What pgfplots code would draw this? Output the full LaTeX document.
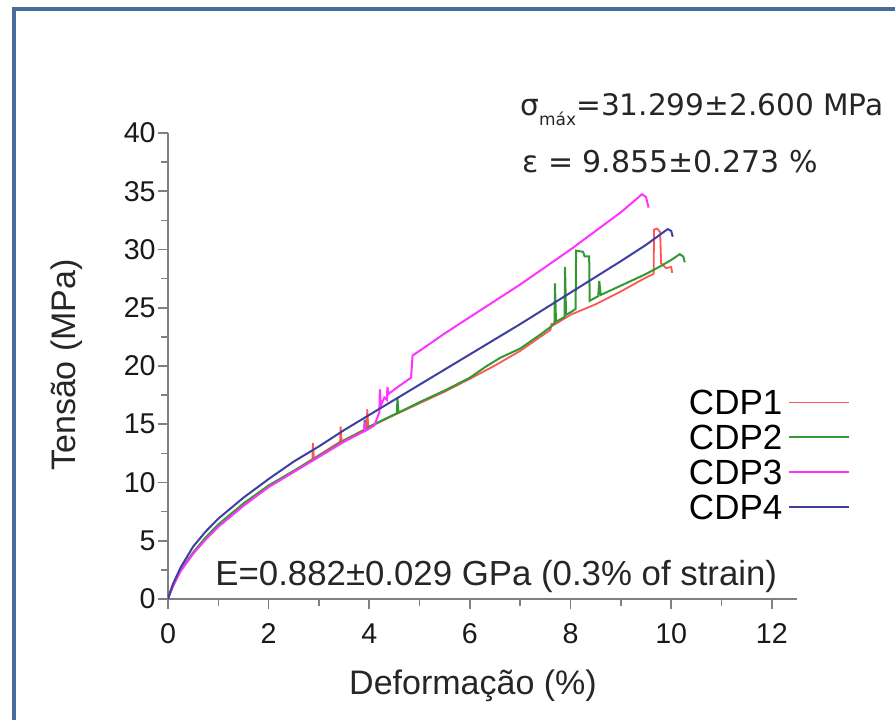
\documentclass[border=0pt]{standalone}
\usepackage{fontspec}
\setmainfont{Liberation Sans}
\newfontfamily\dejavu{DejaVu Sans}
\usepackage{pgfplots}
\pgfplotsset{compat=1.18}
\definecolor{framec}{RGB}{72,108,158}
\definecolor{cA}{HTML}{FF5555}
\definecolor{cB}{HTML}{339933}
\definecolor{cC}{HTML}{FF33FF}
\definecolor{cD}{HTML}{3F3F9F}
\definecolor{axc}{HTML}{808080}
\begin{document}
\begin{tikzpicture}[x=1pt,y=1pt]
\useasboundingbox (0,0) rectangle (447.5,360);
\draw[line width=2pt, color=framec] (6.75,0) -- (6.75,355.5) -- (447.5,355.5);
\begin{axis}[
  at={(84pt,60.5pt)}, anchor=south west,
  scale only axis, width=314.5pt, height=233pt,
  xmin=0, xmax=12.5, ymin=0, ymax=40,
  axis x line*=bottom, axis y line*=left,
  axis line style={color=axc, line width=1pt},
  xtick={0,2,...,12}, ytick={0,5,...,40},
  minor x tick num=1, minor y tick num=1,
  tick align=outside,
  major tick length=5pt, minor tick length=3.5pt,
  every tick/.style={color=axc, line width=0.8pt},
  /pgf/number format/assume math mode=true,
  ticklabel style={font=\fontsize{14.3}{14.3}\selectfont, text=black!90},
  yticklabel style={inner sep=1pt},
  xticklabel style={inner sep=1pt, yshift=-6pt},
  legend style={at={(axis description cs:1.095,0.4624)}, anchor=north east,
    draw=none, fill=none, font=\fontsize{17.5}{17.5}\selectfont,
    nodes={inner sep=1pt, text height=12.5pt, text depth=0pt},
    row sep=3pt, /tikz/every odd column/.append style={column sep=2pt}},
  legend cell align=right, legend plot pos=right,
  legend image code/.code={\draw[#1] (0pt,0pt) -- (30pt,0pt);},
  every axis plot/.append style={line width=1pt},
]
\addplot[cA, line width=0.9pt] coordinates {
(0,0) (0.05,0.6) (0.1,1.1) (0.25,2.4) (0.5,3.9) (0.75,5.2) (1.0,6.3) (1.5,8.1)
(2.0,9.7) (2.5,11.0) (2.87,12.0) (2.88,13.4) (2.9,12.05) (3.0,12.35) (3.42,13.5)
(3.43,14.8) (3.45,13.55) (3.5,13.65) (3.95,14.65) (3.96,16.3) (3.98,14.7) (4.0,14.75)
(4.5,15.8) (5.0,16.8) (5.5,17.8) (6.0,18.9) (6.5,20.05) (7.0,21.3) (7.4,22.5)
(7.6,23.1) (7.62,23.6) (7.7,23.6) (8.0,24.4) (8.5,25.3) (9.0,26.4) (9.5,27.6)
(9.65,27.9) (9.66,31.7) (9.72,31.8) (9.78,31.5) (9.8,28.8) (9.9,28.4) (10.0,28.5) (10.02,28.0)};
\addlegendentry{CDP1}
\addplot[cB] coordinates {
(0,0) (0.05,0.6) (0.1,1.2) (0.25,2.5) (0.5,4.0) (0.75,5.3) (1.0,6.4) (1.5,8.2)
(2.0,9.75) (2.5,11.0) (3.0,12.3) (3.5,13.6) (3.9,14.5) (3.91,15.4) (3.93,14.55)
(4.0,14.8) (4.55,15.95) (4.56,17.3) (4.58,16.0) (5.0,16.9) (5.5,17.9) (6.0,19.0)
(6.3,19.9) (6.6,20.7) (7.0,21.5) (7.4,22.7) (7.68,23.6) (7.69,27.1) (7.71,23.8)
(7.88,24.2) (7.89,28.5) (7.91,24.4) (8.0,24.6) (8.1,24.9) (8.11,29.9) (8.25,29.8)
(8.28,29.4) (8.37,29.4) (8.38,25.6) (8.55,26.0) (8.57,27.3) (8.6,26.1) (9.0,26.9)
(9.5,27.9) (9.8,28.6) (10.0,29.1) (10.17,29.6) (10.24,29.4) (10.27,28.9)};
\addlegendentry{CDP2}
\addplot[cC] coordinates {
(0,0) (0.05,0.6) (0.1,1.1) (0.25,2.4) (0.5,3.9) (0.75,5.1) (1.0,6.2) (1.5,8.0)
(2.0,9.6) (2.5,10.9) (3.0,12.2) (3.5,13.5) (3.9,14.4) (3.91,15.2) (3.93,14.45)
(4.1,14.9) (4.18,15.8) (4.2,16.0) (4.21,18.0) (4.23,16.6) (4.3,17.3) (4.35,17.1)
(4.36,18.2) (4.38,17.6) (4.6,18.3) (4.83,19.0) (4.86,20.9) (5.0,21.3) (5.5,22.8)
(6.0,24.2) (6.5,25.6) (7.0,27.0) (7.5,28.5) (8.0,30.0) (8.5,31.6) (9.0,33.2)
(9.3,34.3) (9.42,34.75) (9.5,34.5) (9.55,33.6)};
\addlegendentry{CDP3}
\addplot[cD] coordinates {
(0,0) (0.05,0.7) (0.1,1.3) (0.25,2.7) (0.5,4.5) (0.75,5.8) (1.0,6.9) (1.5,8.7)
(2.0,10.3) (2.5,11.8) (3.0,13.1) (3.5,14.5) (4.0,15.8) (5.0,18.4) (6.0,21.0)
(7.0,23.6) (8.0,26.3) (9.0,29.0) (9.5,30.4) (9.93,31.75) (10.0,31.6) (10.03,31.1)};
\addlegendentry{CDP4}
\end{axis}
\node[anchor=base west, inner sep=0pt, font=\fontsize{17.4}{17.4}\selectfont, text=black!85] at (107.5,67.5) {E=0.882±0.029 GPa (0.3\% of strain)};
\node[anchor=base west, inner sep=0pt, font=\dejavu\fontsize{14.8}{14.8}\selectfont, text=black!85] at (260,302.5) {σ\raisebox{-5pt}{\fontsize{8.5}{8.5}\selectfont máx}=31.299±2.600 MPa};
\node[anchor=base west, inner sep=0pt, font=\dejavu\fontsize{15}{15}\selectfont, text=black!85] at (261,274) {ε = 9.855±0.273 \%};
\node[font=\fontsize{17}{17}\selectfont, text=black!85] at (236.5,17) {Deformação (\%)};
\node[font=\fontsize{17}{17}\selectfont, text=black!85, rotate=90] at (33.5,177.5) {Tensão (MPa)};
\end{tikzpicture}
\end{document}
